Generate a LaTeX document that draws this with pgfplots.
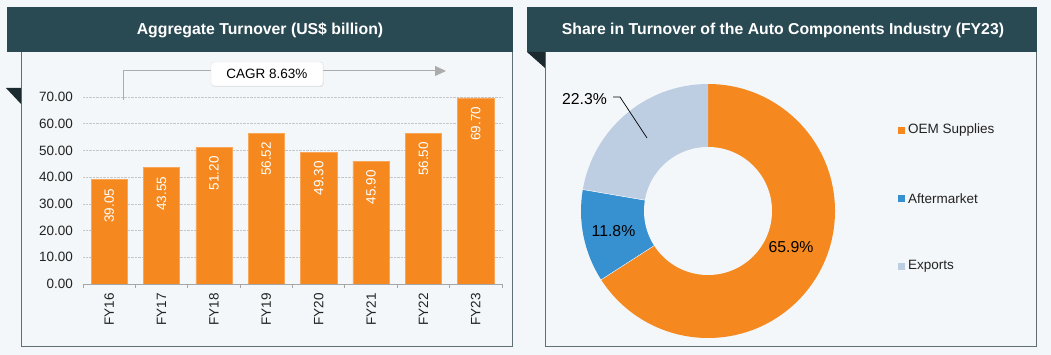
\documentclass[border=0pt]{standalone}
\usepackage{pgfplots}
\pgfplotsset{compat=1.18}
\usepackage{fontspec}
\setmainfont{Liberation Sans}
\usetikzlibrary{arrows.meta,shadows}
\definecolor{bg}{HTML}{F4F7F9}
\definecolor{hdr}{HTML}{2A4A53}
\definecolor{tri}{HTML}{1B2A2F}
\definecolor{bord}{HTML}{5F6F74}
\definecolor{oem}{HTML}{F5891F}
\definecolor{aft}{HTML}{3790D0}
\definecolor{exp}{HTML}{BECEE2}
\definecolor{txt}{HTML}{222222}
\newcommand{\fs}{\fontsize{13.5}{15}\selectfont}
\newcommand{\fl}{\fontsize{15.8}{17}\selectfont}
\begin{document}
\begin{tikzpicture}[x=1pt,y=1pt]
\useasboundingbox (0,0) rectangle (1051,355);
\fill[bg] (0,0) rectangle (1051,355);
% panels
\draw[bord, line width=1pt] (21,8) rectangle (512,303);
\draw[bord, line width=1pt] (545,8) rectangle (1036,303);
\fill[hdr] (7,303) rectangle (513,348);
\fill[hdr] (527,303) rectangle (1037,348);
\fill[tri] (6,267) -- (21,267) -- (21,251) -- cycle;
\fill[tri] (527,303) -- (545,303) -- (545,287) -- cycle;
\node[text=white, font=\fontsize{15.8}{17}\selectfont\bfseries] at (260,325) {Aggregate Turnover (US\$ billion)};
\node[text=white, font=\fontsize{15.8}{17}\selectfont\bfseries] at (783,325) {Share in Turnover of the Auto Components Industry (FY23)};
% bar chart
\begin{axis}[
  at={(83pt,71pt)}, anchor=south west,
  width=419pt, height=187pt, scale only axis,
  xmin=-0.5, xmax=7.5, ymin=0, ymax=70,
  axis lines*=left,
  y axis line style={draw=none},
  x axis line style={draw=gray!70, line width=0.8pt},
  ybar, bar width=0.69,
  ytick={0,10,...,70},
  yticklabels={0.00,10.00,20.00,30.00,40.00,50.00,60.00,70.00},
  xtick={0,...,7},
  xticklabels={FY16,FY17,FY18,FY19,FY20,FY21,FY22,FY23},
  minor xtick={-0.5,0.5,...,7.5},
  major tick length=0pt, minor tick length=4pt, tick align=outside,
  minor tick style={draw=gray!70, line width=0.8pt},
  ymajorgrids, grid style={densely dotted, gray!45, line width=0.6pt},
  tick label style={font=\fs, text=txt},
  yticklabel style={anchor=east, inner sep=0pt, xshift=-10pt},
  xticklabel style={yshift=-9pt, rotate=90, anchor=east, inner sep=0pt},
  point meta=explicit symbolic,
  nodes near coords,
  nodes near coords align=center,
  every node near coord/.append style={yshift=-26pt, rotate=90, anchor=center, inner sep=0pt, text=white, font=\fs},
]
\addplot[fill=oem, draw=oem!75!white, line width=0.5pt] coordinates {
  (0,39.05) [39.05]
  (1,43.55) [43.55]
  (2,51.20) [51.20]
  (3,56.52) [56.52]
  (4,49.30) [49.30]
  (5,45.90) [45.90]
  (6,56.50) [56.50]
  (7,69.70) [69.70]
};
\end{axis}
% CAGR arrow
\draw[gray!65, line width=1pt, -{Triangle[length=11pt,width=10pt]}] (123,255) -- (123,284) -- (446,284);
\node[fill=white, draw=gray!25, rounded corners=3pt, drop shadow={opacity=0.15, shadow xshift=0.5pt, shadow yshift=-1pt}, minimum width=112pt, minimum height=24pt, inner sep=0pt, font=\fs, text=black] at (267,281) {CAGR 8.63\%};
% donut
\def\cx{708}\def\cy{144}
\def\R{127}\def\r{64}
\fill[oem] (\cx,\cy) -- ++(90:\R) arc[start angle=90, end angle={90-65.9*3.6}, radius=\R] -- cycle;
\fill[aft] (\cx,\cy) -- ++({90-65.9*3.6}:\R) arc[start angle={90-65.9*3.6}, end angle={90-(65.9+11.8)*3.6}, radius=\R] -- cycle;
\fill[exp] (\cx,\cy) -- ++({90-(65.9+11.8)*3.6}:\R) arc[start angle={90-(65.9+11.8)*3.6}, end angle={90-100*3.6}, radius=\R] -- cycle;
\draw[white, line width=0.4pt] (\cx,\cy) -- ++({90-65.9*3.6}:\R);
\draw[white, line width=0.4pt] (\cx,\cy) -- ++({90-(65.9+11.8)*3.6}:\R);
\fill[bg] (\cx,\cy) circle[radius=\r];
\node[font=\fl, text=black] at (791,108) {65.9\%};
\node[font=\fl, text=black] at (613.5,124) {11.8\%};
\node[font=\fl, text=black] at (584.5,256) {22.3\%};
\draw[black, line width=0.7pt] (613,258) -- (620,258) -- (647,217);
% legend
\fill[oem] (898,221) rectangle (905,228);
\fill[aft] (898,153) rectangle (905,160);
\fill[exp] (898,85) rectangle (905,92);
\node[font=\fs, text=txt, anchor=west, inner sep=0pt] at (908,224.5) {OEM Supplies};
\node[font=\fs, text=txt, anchor=west, inner sep=0pt] at (908,156.5) {Aftermarket};
\node[font=\fs, text=txt, anchor=west, inner sep=0pt] at (908,88.5) {Exports};
\end{tikzpicture}
\end{document}
